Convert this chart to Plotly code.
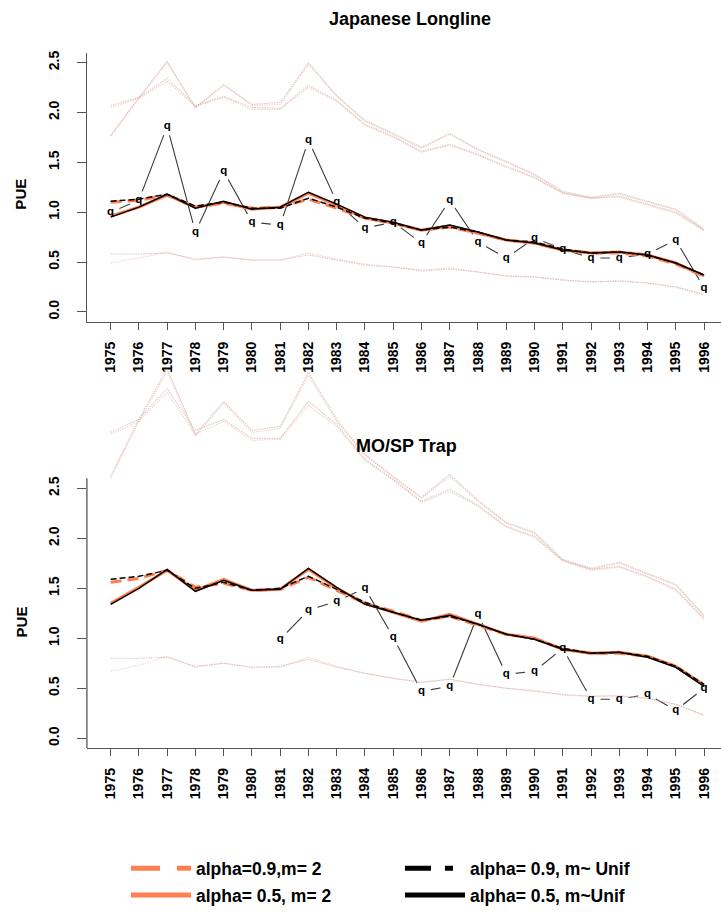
import plotly.graph_objects as go

W, H = 721, 913

years = list(range(1975, 1997))
year_labels = [str(y) for y in years]
y_tickvals = [0.0, 0.5, 1.0, 1.5, 2.0, 2.5]
y_ticktext = ["0.0", "0.5", "1.0", "1.5", "2.0", "2.5"]

panel_titles = ["Japanese Longline", "MO/SP Trap"]
legend_names = ["alpha=0.9,m= 2", "alpha= 0.9, m~ Unif", "alpha= 0.5, m= 2", "alpha= 0.5, m~Unif"]

# ---------------- Japanese Longline ----------------
jl_obs = [1.00, 1.12, 1.86, 0.80, 1.41, 0.90, 0.87, 1.72, 1.10, 0.84, 0.90, 0.69,
          1.12, 0.70, 0.54, 0.74, 0.63, 0.54, 0.54, 0.58, 0.72, 0.24]
jl_o09 = [1.10, 1.12, 1.17, 1.05, 1.09, 1.04, 1.05, 1.13, 1.04, 0.94, 0.89, 0.82,
          0.85, 0.79, 0.72, 0.69, 0.62, 0.59, 0.59, 0.56, 0.48, 0.36]
jl_o05 = [0.96, 1.05, 1.17, 1.05, 1.10, 1.03, 1.05, 1.19, 1.07, 0.94, 0.89, 0.82,
          0.86, 0.79, 0.72, 0.69, 0.62, 0.59, 0.60, 0.57, 0.49, 0.36]
jl_b09 = [1.11, 1.13, 1.18, 1.06, 1.10, 1.04, 1.04, 1.14, 1.05, 0.94, 0.89, 0.82,
          0.85, 0.80, 0.72, 0.70, 0.63, 0.59, 0.60, 0.57, 0.49, 0.37]
jl_b05 = [0.95, 1.05, 1.18, 1.04, 1.11, 1.03, 1.05, 1.20, 1.08, 0.95, 0.90, 0.82,
          0.87, 0.80, 0.72, 0.69, 0.62, 0.59, 0.60, 0.57, 0.49, 0.37]
jl_up09a = [2.07, 2.15, 2.34, 2.07, 2.16, 2.05, 2.04, 2.27, 2.12, 1.88, 1.76, 1.61,
            1.68, 1.58, 1.46, 1.35, 1.19, 1.14, 1.16, 1.08, 1.00, 0.82]
jl_up09b = [2.05, 2.14, 2.31, 2.06, 2.15, 2.03, 2.03, 2.25, 2.11, 1.87, 1.75, 1.60,
            1.67, 1.57, 1.45, 1.34, 1.19, 1.14, 1.15, 1.07, 0.99, 0.81]
jl_up05a = [1.77, 2.15, 2.51, 2.05, 2.28, 2.08, 2.10, 2.50, 2.17, 1.92, 1.79, 1.65,
            1.79, 1.63, 1.51, 1.38, 1.21, 1.15, 1.19, 1.11, 1.03, 0.83]
jl_up05b = [1.76, 2.14, 2.50, 2.04, 2.27, 2.07, 2.08, 2.48, 2.16, 1.91, 1.78, 1.64,
            1.78, 1.62, 1.50, 1.37, 1.20, 1.14, 1.18, 1.10, 1.02, 0.82]
jl_lo09 = [0.58, 0.58, 0.59, 0.53, 0.55, 0.52, 0.52, 0.57, 0.52, 0.47, 0.45, 0.41,
           0.43, 0.40, 0.36, 0.35, 0.32, 0.30, 0.31, 0.29, 0.25, 0.17]
jl_lo05 = [0.49, 0.54, 0.60, 0.52, 0.55, 0.52, 0.52, 0.59, 0.53, 0.48, 0.45, 0.42,
           0.44, 0.40, 0.36, 0.35, 0.32, 0.30, 0.31, 0.29, 0.25, 0.18]

# ---------------- MO/SP Trap ----------------
ms_obs = [None, None, None, None, None, None, 0.99, 1.28, 1.37, 1.50, 1.01, 0.47,
          0.52, 1.24, 0.64, 0.67, 0.90, 0.39, 0.39, 0.44, 0.28, 0.50]
ms_o09 = [1.56, 1.60, 1.68, 1.51, 1.55, 1.48, 1.49, 1.61, 1.48, 1.35, 1.27, 1.18,
          1.22, 1.13, 1.04, 1.00, 0.89, 0.85, 0.85, 0.82, 0.72, 0.53]
ms_o05 = [1.35, 1.51, 1.68, 1.48, 1.59, 1.48, 1.49, 1.69, 1.50, 1.35, 1.26, 1.17,
          1.24, 1.14, 1.04, 1.00, 0.89, 0.85, 0.86, 0.82, 0.72, 0.53]
ms_b09 = [1.59, 1.62, 1.68, 1.50, 1.56, 1.48, 1.50, 1.62, 1.49, 1.36, 1.26, 1.18,
          1.22, 1.14, 1.04, 0.99, 0.90, 0.85, 0.86, 0.82, 0.72, 0.54]
ms_b05 = [1.34, 1.50, 1.69, 1.47, 1.58, 1.48, 1.49, 1.70, 1.51, 1.34, 1.26, 1.18,
          1.23, 1.14, 1.04, 0.99, 0.89, 0.85, 0.86, 0.81, 0.71, 0.52]
ms_up09a = [3.06, 3.19, 3.50, 3.08, 3.19, 3.00, 3.00, 3.37, 3.14, 2.79, 2.59, 2.37,
            2.49, 2.33, 2.12, 2.02, 1.78, 1.69, 1.72, 1.62, 1.49, 1.20]
ms_up09b = [3.04, 3.17, 3.46, 3.04, 3.17, 2.98, 2.99, 3.33, 3.12, 2.78, 2.58, 2.36,
            2.47, 2.32, 2.11, 2.01, 1.77, 1.68, 1.71, 1.61, 1.48, 1.19]
ms_up05a = [2.62, 3.19, 3.70, 3.04, 3.37, 3.08, 3.12, 3.66, 3.19, 2.84, 2.62, 2.41,
            2.64, 2.38, 2.16, 2.06, 1.79, 1.70, 1.76, 1.65, 1.54, 1.23]
ms_up05b = [2.60, 3.17, 3.67, 3.02, 3.35, 3.06, 3.10, 3.63, 3.17, 2.83, 2.61, 2.40,
            2.62, 2.37, 2.15, 2.05, 1.78, 1.69, 1.75, 1.64, 1.53, 1.22]
ms_lo09 = [0.80, 0.80, 0.81, 0.72, 0.75, 0.71, 0.72, 0.79, 0.71, 0.65, 0.60, 0.56,
           0.59, 0.54, 0.50, 0.47, 0.44, 0.42, 0.42, 0.40, 0.34, 0.23]
ms_lo05 = [0.67, 0.73, 0.82, 0.71, 0.75, 0.71, 0.71, 0.81, 0.72, 0.65, 0.60, 0.56,
           0.59, 0.54, 0.50, 0.48, 0.43, 0.42, 0.43, 0.40, 0.34, 0.23]

ORANGE = "#FF7F50"
BLACK = "#000000"
OBS_COL = "#3a3a3a"
BAND_A = "rgba(185,150,145,0.5)"
BAND_B = "rgba(235,170,150,0.5)"
AXIS_COL = "#555555"
FONT = "Liberation Sans"

fig = go.Figure()

panels = [
    ("x", "y", jl_obs, jl_o09, jl_o05, jl_b09, jl_b05,
     [jl_up09a, jl_up09b, jl_up05a, jl_up05b, jl_lo09, jl_lo05]),
    ("x2", "y2", ms_obs, ms_o09, ms_o05, ms_b09, ms_b05,
     [ms_up09a, ms_up09b, ms_up05a, ms_up05b, ms_lo09, ms_lo05]),
]

for xa, ya, obs, o09, o05, b09, b05, bands in panels:
    # observed index: line with gaps around points (white masks)
    fig.add_trace(go.Scatter(
        x=years, y=obs, xaxis=xa, yaxis=ya, mode="lines+markers",
        line=dict(color=OBS_COL, width=1.1),
        marker=dict(color="white", size=19, line=dict(width=0)),
        showlegend=False, hoverinfo="skip", connectgaps=False))
    # confidence bands
    for i, b in enumerate(bands):
        fig.add_trace(go.Scatter(
            x=years, y=b, xaxis=xa, yaxis=ya, mode="lines",
            line=dict(color=BAND_A if i % 2 == 0 else BAND_B, width=1.1, dash="1.5px,1px"),
            showlegend=False, hoverinfo="skip"))
    # model fits
    fig.add_trace(go.Scatter(x=years, y=o09, xaxis=xa, yaxis=ya, mode="lines",
                             line=dict(color=ORANGE, width=3, dash="11px,6px"),
                             showlegend=False))
    fig.add_trace(go.Scatter(x=years, y=o05, xaxis=xa, yaxis=ya, mode="lines",
                             line=dict(color=ORANGE, width=3),
                             showlegend=False))
    fig.add_trace(go.Scatter(x=years, y=b09, xaxis=xa, yaxis=ya, mode="lines",
                             line=dict(color=BLACK, width=1.5, dash="6px,3px"),
                             showlegend=False))
    fig.add_trace(go.Scatter(x=years, y=b05, xaxis=xa, yaxis=ya, mode="lines",
                             line=dict(color=BLACK, width=1.5),
                             showlegend=False))
    # "q" symbols
    fig.add_trace(go.Scatter(
        x=years, y=obs, xaxis=xa, yaxis=ya, mode="text", text=["q"] * len(years),
        textposition="middle center",
        textfont=dict(family=FONT, size=11.5, color="black", weight="bold"),
        showlegend=False, hoverinfo="skip"))

# legend entries: one small legend per entry, laid out as in the reference
leg_styles = [
    (ORANGE, 5, "29px,17px", "legend"),
    (BLACK, 5, "26px,14px,8px,100px", "legend2"),
    (ORANGE, 5, "solid", "legend3"),
    (BLACK, 5, "solid", "legend4"),
]
for name, (c, w, d, lg) in zip(legend_names, leg_styles):
    fig.add_trace(go.Scatter(x=[None], y=[None], mode="lines", name=name,
                             line=dict(color=c, width=w, dash=d),
                             xaxis="x2", yaxis="y2", showlegend=True, legend=lg))

x_dom = [86.9 / W, 1.0]
x_rng = [1974.16, 1996.60]
top_dom = [(H - 325.8) / H, (H - 53.2) / H]
bot_dom = [(H - 757.4) / H, (H - 367.8) / H]

tickfont = dict(family=FONT, size=14, color="black", weight="bold")

def xaxis_cfg(anchor):
    return dict(domain=x_dom, range=x_rng, anchor=anchor, tickmode="array",
                tickvals=years, ticktext=year_labels, tickangle=-90,
                ticks="outside", ticklen=7, tickwidth=1.3, tickcolor=AXIS_COL,
                showline=True, linecolor=AXIS_COL, linewidth=1.3,
                showgrid=False, zeroline=False, tickfont=tickfont,
                ticklabelstandoff=6, automargin=False, fixedrange=True)

def yaxis_cfg(anchor, dom, rng, showline):
    return dict(domain=dom, range=rng, anchor=anchor, tickmode="array",
                tickvals=y_tickvals, ticktext=y_ticktext, tickangle=-90,
                ticks="outside", ticklen=9, tickwidth=1.3, tickcolor=AXIS_COL,
                showline=showline, linecolor=AXIS_COL, linewidth=1.3,
                showgrid=False, zeroline=False, tickfont=tickfont,
                ticklabelstandoff=12, automargin=False, fixedrange=True)

leg_font = dict(family=FONT, size=17.5, color="black", weight="bold")

def legend_cfg(xpx, ypx):
    return dict(orientation="v", x=xpx / W, xanchor="left",
                y=(H - ypx) / H, yanchor="middle", itemwidth=60,
                font=leg_font, bgcolor="rgba(0,0,0,0)", borderwidth=0)

fig.update_layout(
    width=W, height=H,
    margin=dict(l=0, r=0, t=0, b=0),
    paper_bgcolor="white", plot_bgcolor="rgba(0,0,0,0)",
    xaxis=xaxis_cfg("y"),
    yaxis=yaxis_cfg("x", top_dom, [-0.1, 2.6], True),
    xaxis2=xaxis_cfg("y2"),
    yaxis2=yaxis_cfg("x2", bot_dom, [-0.1, 3.75], False),
    showlegend=True,
    legend=legend_cfg(126, 879),
    legend2=legend_cfg(400, 879),
    legend3=legend_cfg(126, 906),
    legend4=legend_cfg(400, 906),
    font=dict(family=FONT),
)

# left axis line of the lower panel covers only the 0.0-2.5 region
fig.add_shape(type="line", xref="paper", yref="y2",
              x0=x_dom[0], x1=x_dom[0], y0=-0.1, y1=2.6,
              line=dict(color=AXIS_COL, width=1.3))

title_font = dict(family=FONT, size=18, color="black", weight="bold")
lab_font = dict(family=FONT, size=15, color="black", weight="bold")
fig.add_annotation(text=panel_titles[0], x=410 / W, y=(H - 19) / H, xref="paper", yref="paper",
                   showarrow=False, font=title_font, xanchor="center", yanchor="middle")
fig.add_annotation(text=panel_titles[1], x=406 / W, y=(H - 451) / H, xref="paper", yref="paper",
                   showarrow=False, font=title_font, xanchor="center", yanchor="middle")
fig.add_annotation(text="PUE", x=21 / W, y=(H - 197) / H, xref="paper", yref="paper",
                   showarrow=False, font=lab_font, textangle=-90,
                   xanchor="center", yanchor="middle")
fig.add_annotation(text="PUE", x=21 / W, y=(H - 630) / H, xref="paper", yref="paper",
                   showarrow=False, font=lab_font, textangle=-90,
                   xanchor="center", yanchor="middle")

fig.write_html("out.html")
